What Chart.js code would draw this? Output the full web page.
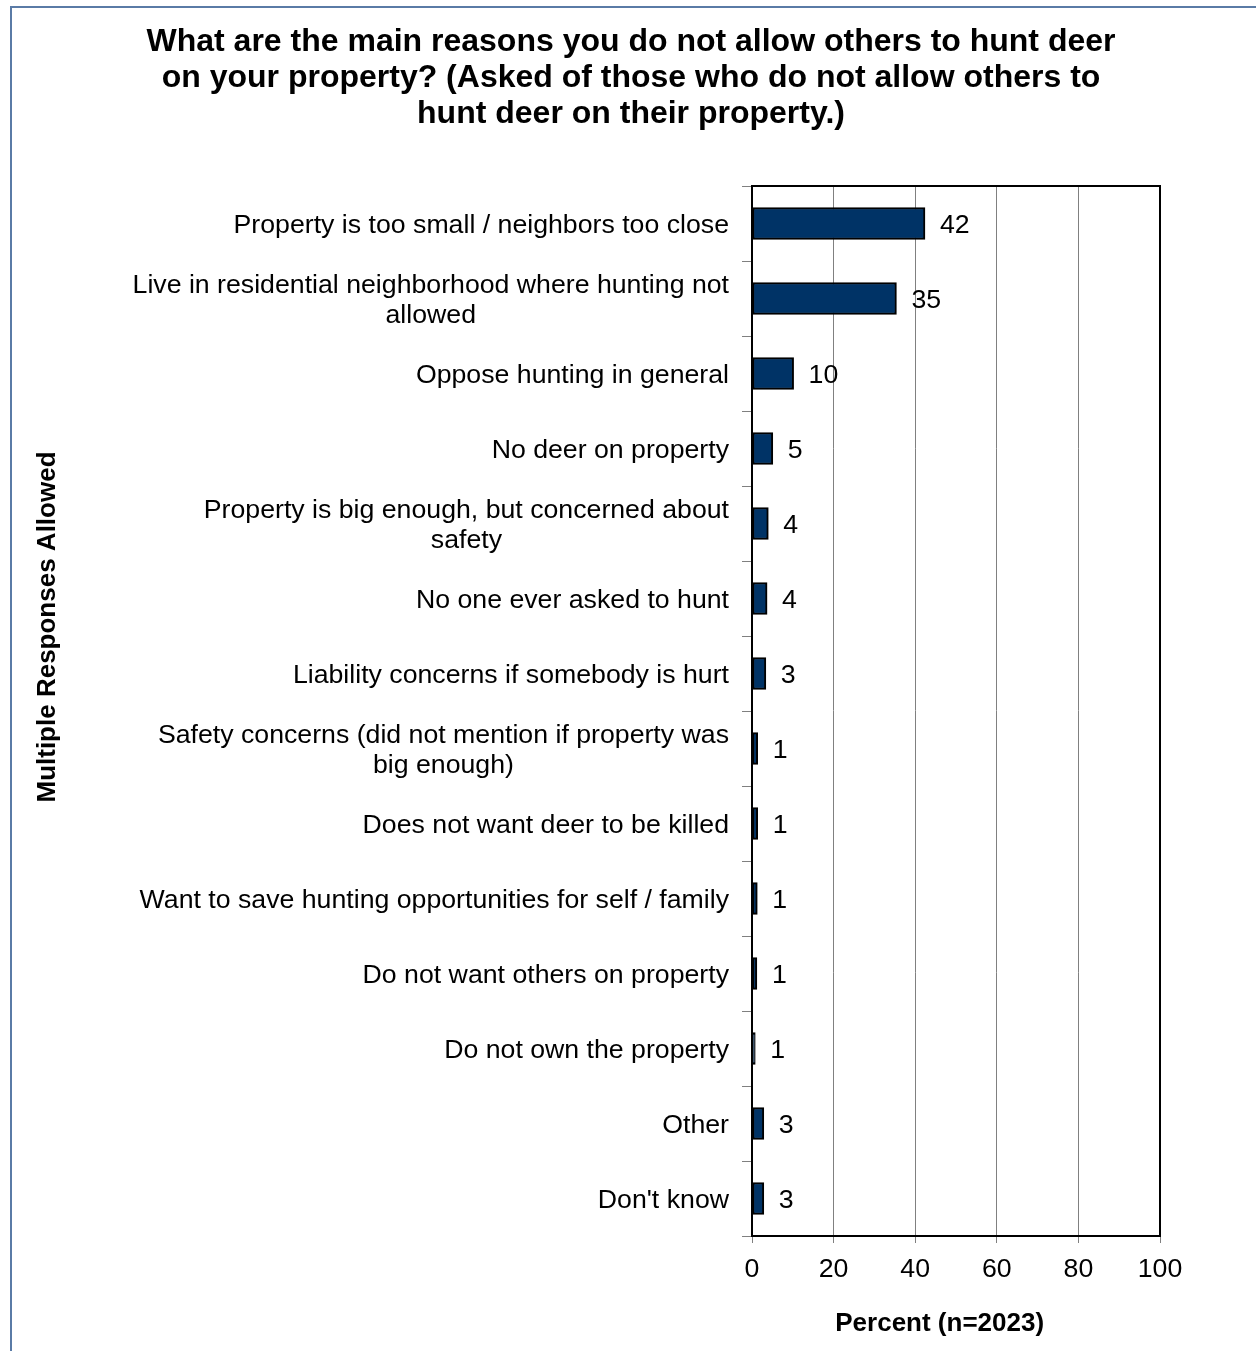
<!DOCTYPE html>
<html>
<head>
<meta charset="utf-8">
<script src="https://cdn.jsdelivr.net/npm/chart.js@4.4.1/dist/chart.umd.min.js"></script>
<style>
  html, body { margin: 0; padding: 0; background: #fff; overflow: hidden; }
</style>
</head>
<body>
<canvas id="myChart" width="1256" height="1351"></canvas>
<script>
// each reason is split into the lines shown in the picture
const reasons = [
  ['Property is too small / neighbors too close'],
  ['Live in residential neighborhood where hunting not', 'allowed'],
  ['Oppose hunting in general'],
  ['No deer on property'],
  ['Property is big enough, but concerned about', 'safety'],
  ['No one ever asked to hunt'],
  ['Liability concerns if somebody is hurt'],
  ['Safety concerns (did not mention if property was', 'big enough)'],
  ['Does not want deer to be killed'],
  ['Want to save hunting opportunities for self / family'],
  ['Do not want others on property'],
  ['Do not own the property'],
  ['Other'],
  ["Don't know"]
];
const percent = [42.4, 35.4, 10.2, 5.1, 4.0, 3.7, 3.4, 1.4, 1.4, 1.3, 1.2, 0.8, 2.9, 2.9];
const xTicks = [0, 20, 40, 60, 80, 100];
const chartTitle = [
  'What are the main reasons you do not allow others to hunt deer',
  'on your property? (Asked of those who do not allow others to',
  'hunt deer on their property.)'
];
const xTitle = 'Percent (n=2023)';
const yTitle = 'Multiple Responses Allowed';

const FONT = '"Liberation Sans", Arial, Helvetica, sans-serif';
const TEXT_SIZE = 26.7;

// frame, category labels, value labels and axis titles
const extras = {
  id: 'extras',
  beforeDraw(chart) {
    const ctx = chart.ctx;
    ctx.save();
    ctx.strokeStyle = '#5a7ba6';
    ctx.lineWidth = 2;
    ctx.beginPath();
    ctx.moveTo(11, chart.height);
    ctx.lineTo(11, 7);
    ctx.lineTo(chart.width, 7);
    ctx.stroke();
    ctx.restore();
  },
  afterDraw(chart) {
    const ctx = chart.ctx;
    const a = chart.chartArea;
    const y = chart.scales.y;
    ctx.save();
    ctx.strokeStyle = '#000';
    ctx.lineWidth = 2;
    ctx.strokeRect(a.left, a.top, a.right - a.left, a.bottom - a.top);

    ctx.fillStyle = '#000';
    ctx.textBaseline = 'middle';
    ctx.font = TEXT_SIZE + 'px ' + FONT;
    ctx.textAlign = 'center';
    reasons.forEach((lines, i) => {
      const cy = y.getPixelForValue(i) + 2;
      const w = Math.max(...lines.map(l => ctx.measureText(l).width));
      const cx = a.left - 23 - w / 2;
      lines.forEach((l, j) => {
        ctx.fillText(l, cx, cy + (j - (lines.length - 1) / 2) * 30);
      });
    });

    ctx.textAlign = 'left';
    chart.getDatasetMeta(0).data.forEach((bar, i) => {
      ctx.fillText(String(Math.round(percent[i])), bar.x + 15, bar.y + 2);
    });

    ctx.font = 'bold 26px ' + FONT;
    ctx.textAlign = 'center';
    ctx.fillText(xTitle, a.left + (a.right - a.left) * 0.46, a.bottom + 88);

    ctx.translate(48, 627);
    ctx.rotate(-Math.PI / 2);
    ctx.fillText(yTitle, 0, 0);
    ctx.restore();
  }
};

const ctx = document.getElementById('myChart').getContext('2d');
const myChart = new Chart(ctx, {
  type: 'bar',
  data: {
    labels: reasons.map(r => r.join(' ')),
    datasets: [{
      data: percent,
      backgroundColor: '#003366',
      borderColor: '#000',
      borderWidth: 2,
      borderSkipped: false,
      barThickness: 32
    }]
  },
  options: {
    indexAxis: 'y',
    responsive: false,
    animation: false,
    layout: { padding: { left: 102, right: 96, top: 0, bottom: 0 } },
    plugins: {
      legend: { display: false },
      tooltip: { enabled: false },
      title: {
        display: true,
        text: chartTitle,
        color: '#000',
        font: { family: FONT, size: 32, weight: 'bold', lineHeight: 36 / 32 },
        padding: { top: 24, bottom: 54 }
      }
    },
    scales: {
      x: {
        min: 0,
        max: 100,
        afterBuildTicks: s => { s.ticks = xTicks.map(v => ({ value: v })); },
        afterFit: s => { s.height = 115; },
        grid: { color: '#808080', lineWidth: 1, tickLength: 7, tickColor: '#808080' },
        border: { color: '#000', width: 2 },
        ticks: { color: '#000', padding: 11, font: { family: FONT, size: TEXT_SIZE } }
      },
      y: {
        afterFit: s => { s.width = 650; },
        grid: { drawOnChartArea: false, drawTicks: true, tickLength: 10, tickColor: '#808080', offset: true },
        border: { color: '#000', width: 2 },
        ticks: { display: false }
      }
    }
  },
  plugins: [extras]
});
</script>
</body>
</html>
